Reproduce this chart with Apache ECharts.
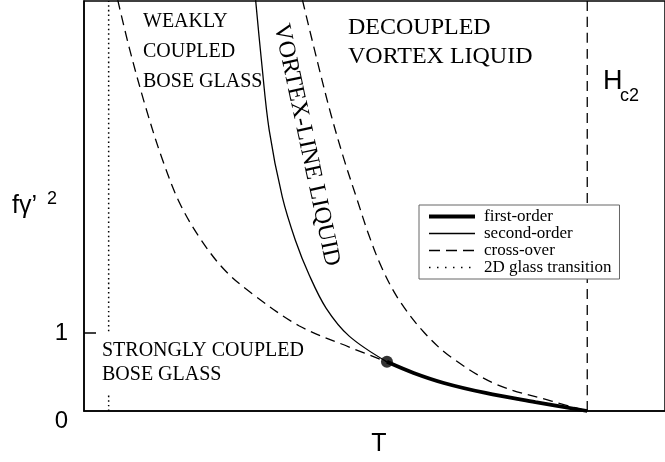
<!DOCTYPE html>
<html>
<head>
<meta charset="utf-8">
<script src="https://cdn.jsdelivr.net/npm/echarts@6/dist/echarts.min.js"></script>
<style>
  html, body { margin: 0; padding: 0; background: #fff; }
  #chart { width: 665px; height: 462px; }
</style>
</head>
<body>
<div id="chart"></div>
<script>
// T runs along x with Hc2 at T = 1, f*gamma'^2 up the y axis
const secondOrder = [[0.341, 5.27], [0.3525, 4.5], [0.368, 3.60], [0.394, 2.744], [0.420, 2.19], [0.4475, 1.744], [0.481, 1.32], [0.527, 0.96], [0.602, 0.63]];
const firstOrder = [[0.602, 0.63], [0.655, 0.487], [0.715, 0.359], [0.798, 0.231], [0.897, 0.115], [1, 0]];
const crossLeft = [[0.067, 5.27], [0.091, 4.63], [0.123, 3.885], [0.156, 3.22], [0.190, 2.667], [0.230, 2.22], [0.279, 1.81], [0.335, 1.5], [0.428, 1.09], [0.527, 0.82], [0.602, 0.63]];
const crossRight = [[0.434, 5.27], [0.463, 4.5], [0.491, 3.795], [0.517, 3.22], [0.543, 2.705], [0.566, 2.256], [0.592, 1.833], [0.626, 1.423], [0.675, 1.013], [0.729, 0.692], [0.818, 0.346], [0.929, 0.128], [1, 0]];
const glassT = 0.049;
const hc2T = 1;
const tricritical = [[0.602, 0.63]];
const yLabels = [0, 1];
const yTicks = [1];
const legendNames = ['first-order', 'second-order', 'cross-over', '2D glass transition'];

const xMax = 1.1545;
const yMax = 5.256;
const serif = 'Liberation Serif';
const sans = 'Liberation Sans';
const dash = [10, 6];

const chart = echarts.init(document.getElementById('chart'));

const curve = (name, data, width, type) => ({
  name, type: 'line', data, symbol: 'none', smooth: 0.35,
  itemStyle: {color: '#000'},
  lineStyle: {color: '#000', width, type: type || 'solid'}
});

const option = {
  animation: false,
  grid: {left: 84, right: -2, top: 1, bottom: 51, show: true, borderColor: '#000', borderWidth: 1.5},
  legend: {
    data: [
      {name: legendNames[0], lineStyle: {width: 4}},
      {name: legendNames[1], lineStyle: {width: 1.5}},
      {name: legendNames[2], lineStyle: {width: 1.5, type: [11, 6]}},
      {name: legendNames[3], lineStyle: {width: 1.5, type: [1.5, 6.5]}}
    ],
    orient: 'vertical',
    left: 419, top: 205,
    width: 196,
    padding: [3, 8, 3, 8],
    itemWidth: 46, itemHeight: 12, itemGap: 0,
    itemStyle: {opacity: 0},
    backgroundColor: '#fff',
    borderColor: '#666', borderWidth: 1,
    textStyle: {fontFamily: serif, fontSize: 17, color: '#000', lineHeight: 17, padding: [0, 0, 0, 4]},
    selectedMode: false
  },
  xAxis: {
    type: 'value', min: 0, max: xMax,
    name: 'T', nameLocation: 'middle', nameGap: 21, nameMoveOverlap: false,
    nameTextStyle: {fontFamily: sans, fontSize: 25, color: '#000', padding: [0, 0, 0, 9]},
    axisLine: {lineStyle: {color: '#000', width: 1.5}},
    axisTick: {show: false}, axisLabel: {show: false}, splitLine: {show: false}
  },
  yAxis: {
    type: 'value', min: 0, max: yMax,
    name: 'fγ’ {sup|2}', nameLocation: 'middle', nameRotate: 0, nameGap: 27, nameMoveOverlap: false,
    nameTextStyle: {fontFamily: sans, fontSize: 25, color: '#000',
      rich: {sup: {fontFamily: sans, fontSize: 18, color: '#000', padding: [0, 0, 14, 3]}}},
    axisLine: {show: true, lineStyle: {color: '#000', width: 1.5}},
    axisTick: {show: true, inside: true, length: 12, customValues: yTicks, lineStyle: {color: '#000', width: 1.5}},
    axisLabel: {
      customValues: yLabels, margin: 16, fontFamily: sans, fontSize: 24, color: '#000',
      formatter: v => v === 0 ? '{lo|0}' : String(v),
      rich: {lo: {fontFamily: sans, fontSize: 24, color: '#000', padding: [20, 0, 0, 0]}}
    },
    splitLine: {show: false}
  },
  series: [
    curve(legendNames[1], secondOrder, 1.3),
    curve(legendNames[0], firstOrder, 3.8),
    curve(legendNames[2], crossLeft, 1.3, dash),
    curve(legendNames[2], crossRight, 1.3, dash),
    curve(legendNames[2], [[hc2T, 0], [hc2T, yMax]], 1.3, dash),
    curve(legendNames[3], [[glassT, 0], [glassT, yMax]], 1.5, [1.5, 3.2]),
    {name: 'tricritical', type: 'scatter', data: tricritical, symbolSize: 12, itemStyle: {color: '#000'}, z: 5}
  ],
  graphic: [
    {type: 'text', left: 143, top: 7, z: 100,
      style: {text: 'WEAKLY\nCOUPLED\nBOSE GLASS', font: '20px "Liberation Serif"', fill: '#000', lineHeight: 30}},
    {type: 'text', left: 348, top: 13, z: 100,
      style: {text: 'DECOUPLED\nVORTEX LIQUID', font: '24px "Liberation Serif"', fill: '#000', lineHeight: 29}},
    {type: 'text', x: 96, y: 333, z: 100,
      style: {text: 'STRONGLY COUPLED\nBOSE GLASS', font: '20px "Liberation Serif"', fill: '#000', lineHeight: 24,
        backgroundColor: '#fff', padding: [6, 0, 7, 6]}},
    {type: 'text', x: 306.5, y: 145, rotation: -77.9 * Math.PI / 180, z: 100,
      style: {text: 'VORTEX-LINE LIQUID', font: '24px "Liberation Serif"', fill: '#000', align: 'center', verticalAlign: 'middle'}},
    {type: 'text', x: 603, y: 82, z: 100,
      style: {text: 'H', font: '27px "Liberation Sans"', fill: '#000', verticalAlign: 'middle'}},
    {type: 'text', x: 620, y: 96, z: 100,
      style: {text: 'c2', font: '18px "Liberation Sans"', fill: '#000', verticalAlign: 'middle'}}
  ]
};

chart.setOption(option);
</script>
</body>
</html>
